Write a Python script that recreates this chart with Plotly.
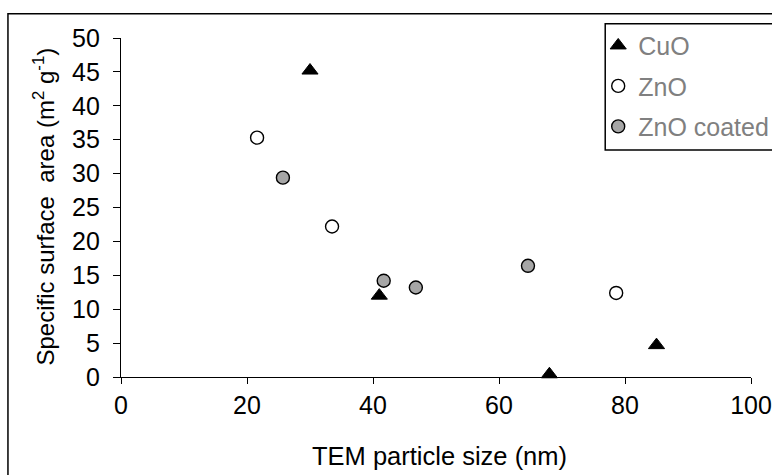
import plotly.graph_objects as go

# Data
cuo_x = [30, 41, 68, 85]
cuo_y = [45.2, 12.0, 0.4, 4.7]
zno_x = [21.6, 33.5, 78.6]
zno_y = [35.3, 22.2, 12.4]
znoc_x = [25.7, 41.7, 46.8, 64.6]
znoc_y = [29.4, 14.2, 13.2, 16.4]

x_ticks = [0, 20, 40, 60, 80, 100]
y_ticks = [0, 5, 10, 15, 20, 25, 30, 35, 40, 45, 50]

FONT = "Liberation Sans, Arial, sans-serif"

fig = go.Figure()
fig.add_trace(go.Scatter(x=cuo_x, y=cuo_y, mode="markers", name="CuO", legendgroup="a",
                         marker=dict(symbol="triangle-up", size=14, color="black",
                                     line=dict(color="black", width=1)),
                         cliponaxis=False))
fig.add_trace(go.Scatter(x=zno_x, y=zno_y, mode="markers", name="ZnO", legendgroup="b",
                         marker=dict(symbol="circle", size=13, color="white",
                                     line=dict(color="black", width=1.4)),
                         cliponaxis=False))
fig.add_trace(go.Scatter(x=znoc_x, y=znoc_y, mode="markers", name="ZnO coated", legendgroup="c",
                         marker=dict(symbol="circle", size=13, color="#A6A6A6",
                                     line=dict(color="black", width=1.4)),
                         cliponaxis=False))

W, H = 772, 475
L, R, T, B = 121.4, 21.4, 38.3, 98.3
pw = W - L - R
ph = H - T - B

def px2paper_x(px):
    return (px - L) / pw

def px2paper_y(py):
    return (H - B - py) / ph

fig.update_layout(
    width=W, height=H,
    margin=dict(l=L, r=R, t=T, b=B, pad=0, autoexpand=False),
    paper_bgcolor="white", plot_bgcolor="white",
    font=dict(family=FONT, size=24, color="black"),
    showlegend=True,
    legend=dict(x=px2paper_x(598), y=px2paper_y(23), xanchor="left", yanchor="top",
                bgcolor="rgba(0,0,0,0)", borderwidth=0,
                font=dict(family=FONT, size=25, color="#808080"),
                traceorder="grouped", tracegroupgap=5, itemwidth=30),
    xaxis=dict(range=[0, 100], tickvals=x_ticks, ticks="outside", ticklen=6,
               tickwidth=1.3, tickcolor="black", showline=True, linecolor="black",
               linewidth=1.3, showgrid=False, zeroline=False, ticklabelstandoff=0,
               tickfont=dict(size=25, color="black")),
    yaxis=dict(range=[0, 50], tickvals=y_ticks, ticks="outside", ticklen=7,
               tickwidth=1.3, tickcolor="black", showline=True, linecolor="black",
               linewidth=1.3, showgrid=False, zeroline=False, ticklabelstandoff=8,
               tickfont=dict(size=25, color="black")),
)

fig.add_annotation(text="TEM particle size (nm)", xref="paper", yref="paper",
                   x=px2paper_x(439), y=px2paper_y(456), xanchor="center", yanchor="middle",
                   showarrow=False, font=dict(size=25.5, color="black"))
fig.add_annotation(text="Specific surface  area (m<sup>2</sup> g<sup>-1</sup>)", xref="paper", yref="paper",
                   x=px2paper_x(44), y=px2paper_y(207), xanchor="center", yanchor="middle",
                   textangle=-90, showarrow=False, font=dict(size=24, color="black"))

# outer frame
fig.add_shape(type="rect", xref="paper", yref="paper",
              x0=px2paper_x(8.5), y0=px2paper_y(520), x1=px2paper_x(820), y1=px2paper_y(14),
              line=dict(color="black", width=1.5), fillcolor="rgba(0,0,0,0)", layer="below")
# legend frame
fig.add_shape(type="rect", xref="paper", yref="paper",
              x0=px2paper_x(605), y0=px2paper_y(150), x1=px2paper_x(800), y1=px2paper_y(24),
              line=dict(color="black", width=1.5), fillcolor="white", layer="above")

fig.write_html("out.html", config={"displayModeBar": False},
               post_script="document.body.style.margin='0px';document.body.style.overflow='hidden';")
